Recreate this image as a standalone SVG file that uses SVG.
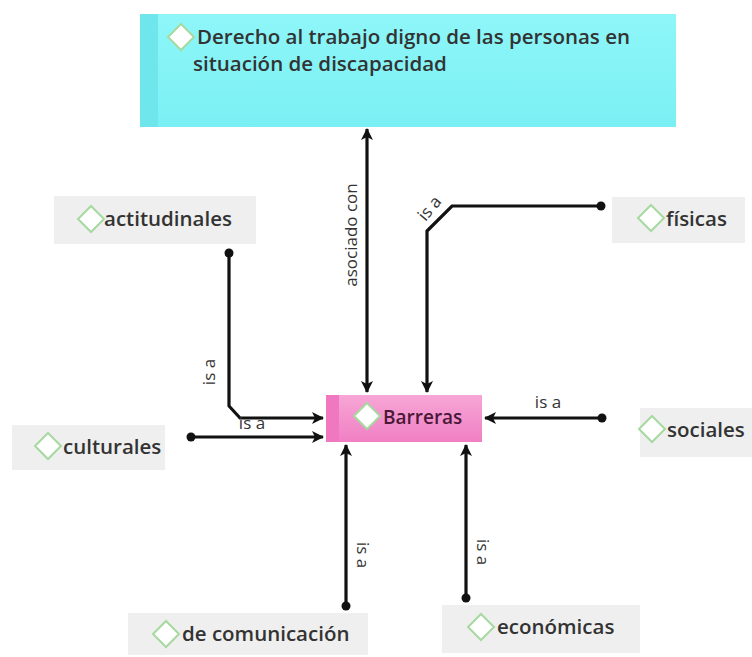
<svg xmlns="http://www.w3.org/2000/svg" width="752" height="657" viewBox="0 0 752 657">
<defs>
<linearGradient id="gc" x1="0" y1="0" x2="0" y2="1"><stop offset="0" stop-color="#8ef6f8"/><stop offset="1" stop-color="#7af0f4"/></linearGradient>
<linearGradient id="gp" x1="0" y1="0" x2="0" y2="1"><stop offset="0" stop-color="#f7a6d6"/><stop offset="1" stop-color="#f07fc3"/></linearGradient>
<marker id="ah" viewBox="0 0 12 12" refX="11" refY="6" markerWidth="12" markerHeight="12" markerUnits="userSpaceOnUse" orient="auto-start-reverse"><path d="M0,0 L12,6 L0,12 L3,6 z" fill="#111"/></marker>
<marker id="dot" viewBox="0 0 10 10" refX="5" refY="5" markerWidth="10" markerHeight="10" markerUnits="userSpaceOnUse"><circle cx="5" cy="5" r="4.5" fill="#111"/></marker>
</defs>
<style>
.node{fill:#efefef}
.dia{fill:#fff;stroke:#a6d9a0;stroke-width:2}
.t{font-family:"Open Sans","Noto Sans",sans-serif;font-size:20.5px;font-weight:600;fill:#333}
.lbl{font-family:"Open Sans","Noto Sans",sans-serif;font-size:17px;fill:#333}
.ln{fill:none;stroke:#111;stroke-width:3.2}
</style>
<rect width="752" height="657" fill="#fff"/>
<g id="derecho">
<rect x="140" y="14" width="536" height="113" fill="url(#gc)"/>
<rect x="140" y="14" width="18" height="113" fill="#6ee6ec"/>
<path class="dia" d="M181,24 L194,37 L181,50 L168,37 z"/>
<text class="t" x="197" y="44">Derecho al trabajo digno de las personas en</text>
<text class="t" x="193" y="71">situación de discapacidad</text>
</g>
<g id="barreras">
<rect x="326" y="395" width="156" height="47" fill="url(#gp)"/>
<rect x="326" y="395" width="13" height="47" fill="#ef78c0"/>
<path class="dia" d="M367,403 L380,416 L367,429 L354,416 z"/>
<text class="t" x="383" y="424" style="fill:#4a1838;font-size:19px">Barreras</text>
</g>
<g id="actitudinales">
<rect class="node" x="54" y="196" width="202" height="48"/>
<path class="dia" d="M91,206 L104,219 L91,232 L78,219 z"/>
<text class="t" x="104" y="226">actitudinales</text>
</g>
<g id="fisicas">
<rect class="node" x="612" y="197" width="133" height="46"/>
<path class="dia" d="M651,205 L664,218 L651,231 L638,218 z"/>
<text class="t" x="666" y="226">físicas</text>
</g>
<g id="culturales">
<rect class="node" x="12" y="425" width="153" height="45"/>
<path class="dia" d="M48,433 L61,446 L48,459 L35,446 z"/>
<text class="t" x="63" y="454">culturales</text>
</g>
<g id="sociales">
<rect class="node" x="640" y="408" width="112" height="49"/>
<path class="dia" d="M652,416 L665,429 L652,442 L639,429 z"/>
<text class="t" x="667" y="437">sociales</text>
</g>
<g id="comunicacion">
<rect class="node" x="128" y="613" width="240" height="42"/>
<path class="dia" d="M166,621 L179,634 L166,647 L153,634 z"/>
<text class="t" x="182" y="641">de comunicación</text>
</g>
<g id="economicas">
<rect class="node" x="442" y="605" width="198" height="48"/>
<path class="dia" d="M481,614 L494,627 L481,640 L468,627 z"/>
<text class="t" x="497" y="634">económicas</text>
</g>
<g id="connectors">
<line class="ln" x1="367" y1="392" x2="367" y2="129" marker-start="url(#ah)" marker-end="url(#ah)"/>
<text class="lbl" transform="translate(357,235) rotate(-90)" text-anchor="middle">asociado con</text>
<path class="ln" d="M601,206 L452,206 L427,231 L427,392" marker-start="url(#dot)" marker-end="url(#ah)"/>
<text class="lbl" transform="translate(434,212) rotate(-50)" text-anchor="middle">is a</text>
<path class="ln" d="M229,253 L229,406 L240,418 L323,418" marker-start="url(#dot)" marker-end="url(#ah)"/>
<text class="lbl" transform="translate(215,372) rotate(-90)" text-anchor="middle">is a</text>
<text class="lbl" x="252" y="429" text-anchor="middle">is a</text>
<path class="ln" d="M191,437 L323,437" marker-start="url(#dot)" marker-end="url(#ah)"/>
<path class="ln" d="M602,418 L485,418" marker-start="url(#dot)" marker-end="url(#ah)"/>
<text class="lbl" x="548" y="408" text-anchor="middle">is a</text>
<path class="ln" d="M346,606 L346,445" marker-start="url(#dot)" marker-end="url(#ah)"/>
<text class="lbl" transform="translate(357,555) rotate(90)" text-anchor="middle">is a</text>
<path class="ln" d="M466,598 L466,445" marker-start="url(#dot)" marker-end="url(#ah)"/>
<text class="lbl" transform="translate(477,552) rotate(90)" text-anchor="middle">is a</text>
</g>
</svg>
